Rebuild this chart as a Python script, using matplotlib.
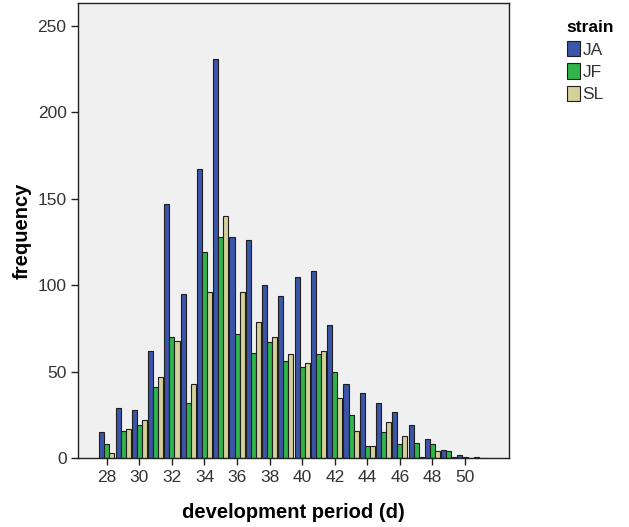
import numpy as np
import matplotlib.pyplot as plt
from matplotlib.patches import Patch

plt.rcParams['font.family'] = ['Liberation Sans', 'DejaVu Sans']

# development period in days and counts per strain
days = np.arange(28, 52)
ja = [15, 29, 28, 62, 147, 95, 167, 231, 128, 126, 100, 94,
      105, 108, 77, 43, 38, 32, 27, 19, 11, 5, 2, 1]
jf = [8, 16, 19, 41, 70, 32, 119, 128, 72, 61, 67, 56,
      53, 60, 50, 25, 7, 15, 8, 9, 8, 4, 1, 0]
sl = [3, 17, 22, 47, 68, 43, 96, 140, 96, 79, 70, 60,
      55, 62, 35, 16, 7, 21, 13, 1, 4, 1, 0, 0]
strains = ['JA', 'JF', 'SL']
colors = ['#3b56a8', '#2fb54a', '#d5d09a']
xticks = np.arange(28, 51, 2)
yticks = np.arange(0, 251, 50)

fig = plt.figure(figsize=(6.29, 5.27), dpi=100)
ax = fig.add_axes([0.1245, 0.1304, 0.6852, 0.8633])
ax.set_facecolor('#f0f0f0')

w = 0.31
for k, (name, vals, c) in enumerate(zip(strains, [ja, jf, sl], colors)):
    ax.bar(days + (k - 1) * w, vals, width=w, color=c,
           edgecolor='#1e1e1e', linewidth=0.8, label=name)

ax.set_xlim(26.25, 52.72)
ax.set_ylim(0, 263)
ax.set_xticks(xticks)
ax.set_yticks(yticks)
ax.tick_params(axis='both', direction='out', length=5, width=1,
               colors='#222222', labelsize=12.5, labelcolor='#333333')
for s in ax.spines.values():
    s.set_color('#222222')
    s.set_linewidth(1)

ax.set_xlabel('development period (d)', fontsize=14.5, fontweight='bold', labelpad=13)
ax.set_ylabel('frequency', fontsize=14.5, fontweight='bold', labelpad=4)

handles = [Patch(facecolor=c, edgecolor='#1e1e1e', linewidth=0.8) for c in colors]
leg = fig.legend(handles, strains, title='strain', loc='upper left',
                 bbox_to_anchor=(0.89, 0.975), frameon=False,
                 fontsize=12.5, title_fontproperties={'weight': 'bold', 'size': 12.5},
                 handlelength=0.75, handleheight=1.0, handletextpad=0.15,
                 labelspacing=0.33, alignment='left', borderaxespad=0)
for t in leg.get_texts():
    t.set_color('#333333')

fig.savefig('out.png', dpi=100)
